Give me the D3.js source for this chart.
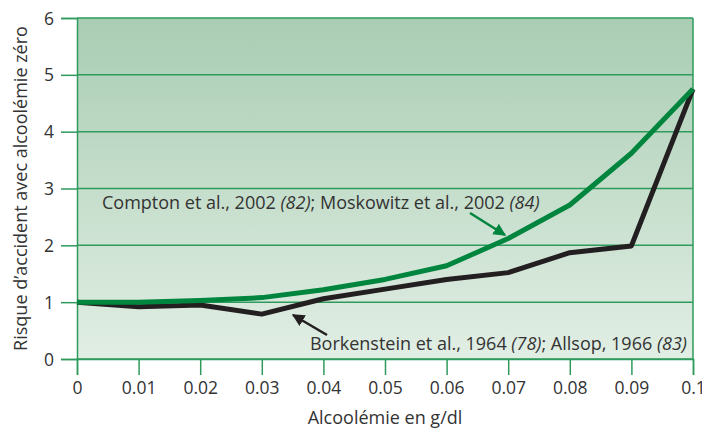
<!DOCTYPE html>
<html lang="fr">
<head>
  <meta charset="UTF-8" />
  <title>Risque d'accident et alcoolémie</title>
  <script src="https://d3js.org/d3.v7.min.js"></script>
  <style>
    body {
      margin: 0;
      background: #fff;
      font-family: 'Open Sans', sans-serif;
    }
    svg text { fill: #333; }
  </style>
</head>
<body>
  <svg id="chart" width="702" height="434"></svg>
  <script>
    // data
    const alcoolemie = [0, 0.01, 0.02, 0.03, 0.04, 0.05, 0.06, 0.07, 0.08, 0.09, 0.1];
    const compton = [1.0, 1.0, 1.03, 1.08, 1.22, 1.4, 1.64, 2.12, 2.71, 3.62, 4.75];
    const borkenstein = [1.0, 0.92, 0.95, 0.79, 1.06, 1.23, 1.4, 1.52, 1.87, 1.99, 4.75];
    const xTicks = [0, 0.01, 0.02, 0.03, 0.04, 0.05, 0.06, 0.07, 0.08, 0.09, 0.1];
    const yTicks = [0, 1, 2, 3, 4, 5, 6];

    const margin = { top: 18, right: 9, bottom: 75, left: 77 };
    const width = 702 - margin.left - margin.right;
    const height = 434 - margin.top - margin.bottom;
    const gridColor = "#2e9a5c";

    const svg = d3.select("#chart");
    const g = svg.append("g").attr("transform", `translate(${margin.left},${margin.top})`);

    const x = d3.scaleLinear().domain([0, 0.1]).range([0, width]);
    const y = d3.scaleLinear().domain([0, 6]).range([height, 0]);

    const defs = svg.append("defs");
    const grad = defs.append("linearGradient")
      .attr("id", "bg").attr("x1", 0).attr("y1", 0).attr("x2", 0).attr("y2", 1);
    grad.append("stop").attr("offset", "0%").attr("stop-color", "#a9cdb3");
    grad.append("stop").attr("offset", "100%").attr("stop-color", "#e1eee4");

    ["green", "black"].forEach(c => {
      defs.append("marker")
        .attr("id", "arrow-" + c)
        .attr("viewBox", "0 0 10 10")
        .attr("refX", 9).attr("refY", 5)
        .attr("markerWidth", 5).attr("markerHeight", 5)
        .attr("markerUnits", "strokeWidth")
        .attr("orient", "auto")
        .append("path")
        .attr("d", "M0,0 L10,5 L0,10 Z")
        .attr("fill", c === "green" ? "#00853e" : "#231f20");
    });

    g.append("rect")
      .attr("width", width).attr("height", height)
      .attr("fill", "url(#bg)");

    // horizontal grid
    g.selectAll(".hgrid").data(yTicks).enter().append("line")
      .attr("x1", 0).attr("x2", width)
      .attr("y1", d => y(d)).attr("y2", d => y(d))
      .attr("stroke", gridColor).attr("stroke-width", 1.5);

    // right border
    g.append("line")
      .attr("x1", width).attr("x2", width).attr("y1", 0).attr("y2", height)
      .attr("stroke", gridColor).attr("stroke-width", 1.5);

    const yAxis = g.append("g")
      .call(d3.axisLeft(y).tickValues(yTicks).tickSize(16).tickPadding(7).tickFormat(d3.format("d")));
    const xAxis = g.append("g")
      .attr("transform", `translate(0,${height})`)
      .call(d3.axisBottom(x).tickValues(xTicks).tickSize(16).tickPadding(7)
        .tickFormat(d => d === 0 ? "0" : d === 0.1 ? "0.1" : d3.format(".2f")(d)));

    [xAxis, yAxis].forEach(a => {
      a.select(".domain").attr("stroke", gridColor).attr("stroke-width", 1.5);
      a.selectAll(".tick line").attr("stroke", gridColor).attr("stroke-width", 1.5);
      a.selectAll(".tick text")
        .attr("font-family", "'Open Sans', sans-serif")
        .attr("font-size", 17.5).attr("fill", "#333");
    });
    yAxis.selectAll(".tick text").attr("dy", "0.35em");

    const line = d3.line()
      .x((d, i) => x(alcoolemie[i]))
      .y(d => y(d));

    g.append("path").datum(borkenstein)
      .attr("d", line)
      .attr("fill", "none")
      .attr("stroke", "#231f20").attr("stroke-width", 5)
      .attr("stroke-linejoin", "round");

    g.append("path").datum(compton)
      .attr("d", line)
      .attr("fill", "none")
      .attr("stroke", "#00853e").attr("stroke-width", 5)
      .attr("stroke-linejoin", "round");

    // annotations
    const t1 = g.append("text")
      .attr("x", 25).attr("y", 191)
      .attr("font-size", 18);
    t1.append("tspan").text("Compton et al., 2002 ");
    t1.append("tspan").attr("font-style", "italic").text("(82)");
    t1.append("tspan").text("; Moskowitz et al., 2002 ");
    t1.append("tspan").attr("font-style", "italic").text("(84)");

    g.append("line")
      .attr("x1", 393).attr("y1", 195).attr("x2", 428).attr("y2", 217)
      .attr("stroke", "#00853e").attr("stroke-width", 2.5)
      .attr("marker-end", "url(#arrow-green)");

    const t2 = g.append("text")
      .attr("x", width - 6).attr("y", 332)
      .attr("text-anchor", "end")
      .attr("font-size", 18);
    t2.append("tspan").text("Borkenstein et al., 1964 ");
    t2.append("tspan").attr("font-style", "italic").text("(78)");
    t2.append("tspan").text("; Allsop, 1966 ");
    t2.append("tspan").attr("font-style", "italic").text("(83)");

    g.append("line")
      .attr("x1", 250).attr("y1", 317).attr("x2", 216).attr("y2", 297)
      .attr("stroke", "#231f20").attr("stroke-width", 2.5)
      .attr("marker-end", "url(#arrow-black)");

    // axis titles
    svg.append("text")
      .attr("x", margin.left + width / 2).attr("y", 424)
      .attr("text-anchor", "middle")
      .attr("font-size", 18)
      .text("Alcoolémie en g/dl");

    svg.append("text")
      .attr("transform", `translate(27,${margin.top + height / 2}) rotate(-90)`)
      .attr("text-anchor", "middle")
      .attr("font-size", 18)
      .text("Risque d’accident avec alcoolémie zéro");
  </script>
</body>
</html>
